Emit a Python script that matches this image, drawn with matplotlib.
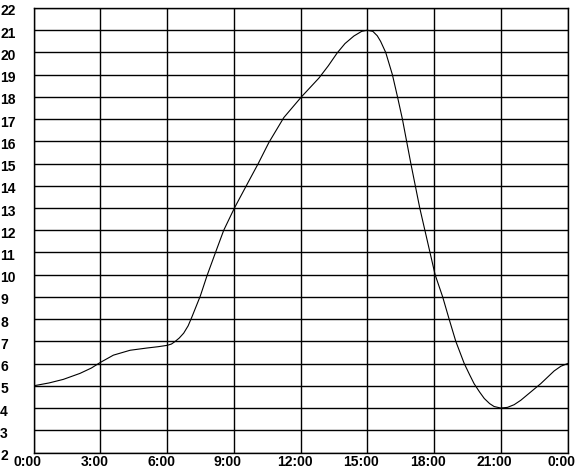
import matplotlib
matplotlib.use("Agg")
import matplotlib.pyplot as plt
from matplotlib.transforms import ScaledTranslation
from matplotlib.font_manager import FontProperties

# Data (hour of day, value)
hours = [0.0, 0.7, 1.34, 2.09, 2.6, 3.0, 3.59, 4.34, 5.09, 5.6, 6.0, 6.2, 6.37, 6.55,
         6.75, 6.95, 7.12, 7.3, 7.5, 7.8, 8.18, 8.55, 9.03, 9.67, 10.1, 10.58, 11.25,
         12.04, 12.83, 13.25, 13.65, 14.0, 14.4, 14.75, 15.0, 15.25, 15.45, 15.6,
         15.83, 16.13, 16.36, 16.58, 16.96, 17.36, 17.82, 18.05, 18.39, 18.68, 18.98,
         19.36, 19.6, 19.8, 20.05, 20.26, 20.5, 20.7, 21.0, 21.3, 21.6, 21.9, 22.2,
         22.8, 23.4, 23.7, 24.0]
values = [5.0, 5.13, 5.29, 5.56, 5.8, 6.05, 6.38, 6.6, 6.70, 6.76, 6.82, 6.88, 7.0, 7.15,
          7.37, 7.7, 8.1, 8.55, 9.05, 9.96, 11.0, 12.0, 13.0, 14.2, 15.0, 15.95, 17.07,
          18.0, 18.85, 19.4, 19.98, 20.4, 20.74, 20.95, 21.0, 20.95, 20.75, 20.5,
          20.0, 19.0, 18.0, 17.0, 15.0, 13.0, 11.0, 10.0, 9.0, 8.0, 7.0,
          6.0, 5.5, 5.1, 4.72, 4.43, 4.2, 4.07, 4.0, 4.03, 4.15, 4.35, 4.6,
          5.1, 5.67, 5.88, 6.0]

x_ticks = [0, 3, 6, 9, 12, 15, 18, 21, 24]
x_tick_labels = ["0:00", "3:00", "6:00", "9:00", "12:00", "15:00", "18:00", "21:00", "0:00"]
y_ticks = list(range(2, 23))
y_tick_labels = [str(v) for v in y_ticks]

W, H = 576, 469
fig = plt.figure(figsize=(W / 100, H / 100), dpi=100)
ax = fig.add_axes([33.5 / W, (H - 452.5) / H, (567.5 - 33.5) / W, (452.5 - 8) / H])

ax.plot(hours, values, color="black", linewidth=0.8, zorder=3)

ax.set_xlim(0, 24)
ax.set_ylim(2, 22)
ax.set_xticks(x_ticks)
ax.set_xticklabels(x_tick_labels)
ax.set_yticks(y_ticks)
ax.set_yticklabels(y_tick_labels)

ax.grid(True, color="black", linewidth=1.0)
ax.set_axisbelow(True)
for s in ax.spines.values():
    s.set_color("black")
    s.set_linewidth(1.0)

fp = FontProperties(family="Liberation Sans", weight="bold", size=10)
ax.tick_params(axis="both", length=0)
ax.tick_params(axis="y", pad=24)
ax.tick_params(axis="x", pad=2)
for lab in ax.get_yticklabels():
    lab.set_fontproperties(fp)
    lab.set_horizontalalignment("left")
    lab.set_transform(lab.get_transform() + ScaledTranslation(0, -2 / 100, fig.dpi_scale_trans))
for lab in ax.get_xticklabels():
    lab.set_fontproperties(fp)
    lab.set_transform(lab.get_transform() + ScaledTranslation(-6 / 100, 0, fig.dpi_scale_trans))

fig.savefig("out.png", dpi=100)
